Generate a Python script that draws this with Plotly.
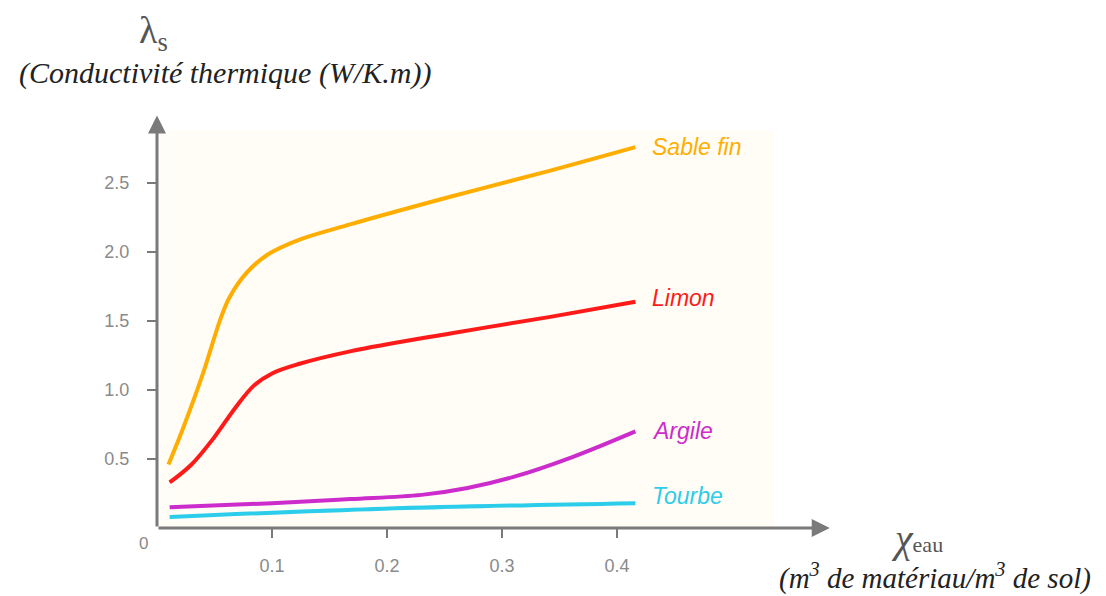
import plotly.graph_objects as go

# ---- data ----
sable_x = [0.010, 0.023, 0.040, 0.055, 0.063, 0.078, 0.096, 0.124, 0.168, 0.255, 0.342, 0.416]
sable_y = [0.46, 0.73, 1.12, 1.51, 1.67, 1.85, 1.98, 2.09, 2.20, 2.40, 2.59, 2.76]

limon_x = [0.011, 0.030, 0.050, 0.068, 0.084, 0.100, 0.124, 0.168, 0.255, 0.342, 0.416]
limon_y = [0.33, 0.46, 0.66, 0.87, 1.03, 1.12, 1.19, 1.28, 1.41, 1.53, 1.64]

argile_x = [0.011, 0.100, 0.168, 0.230, 0.270, 0.310, 0.360, 0.416]
argile_y = [0.15, 0.18, 0.21, 0.24, 0.29, 0.37, 0.51, 0.70]

tourbe_x = [0.011, 0.197, 0.416]
tourbe_y = [0.08, 0.14, 0.18]

series_names = ["Sable fin", "Limon", "Argile", "Tourbe"]
series_colors = ["#ffad00", "#ff1a1a", "#cc2ccc", "#2ccdea"]
label_yshift = [0, 4, 0, 7]

x_ticks = [0.1, 0.2, 0.3, 0.4]
x_tick_text = ["0.1", "0.2", "0.3", "0.4"]
y_ticks = [0.5, 1.0, 1.5, 2.0, 2.5]
y_tick_text = ["0.5", "1.0", "1.5", "2.0", "2.5"]

# plot area placement on the screenshot (page body adds 8px offset)
PL, PT, PW, PH = 157, 114, 690, 414


def px(X):
    return (X - PL) / PW


def py(Y):
    return (PT + PH - Y) / PH


fig = go.Figure()

# faint background panel
fig.add_shape(type="rect", xref="x", yref="y", x0=0.003, x1=0.536, y0=0, y1=2.88,
              fillcolor="#fffdf5", line_width=0, layer="below")

xs = [sable_x, limon_x, argile_x, tourbe_x]
ys = [sable_y, limon_y, argile_y, tourbe_y]
for name, col, x, y, ysh in zip(series_names, series_colors, xs, ys, label_yshift):
    fig.add_trace(go.Scatter(x=x, y=y, mode="lines", name=name,
                             line=dict(color=col, width=4, shape="spline", smoothing=1.0),
                             showlegend=False, hoverinfo="skip"))
    fig.add_annotation(x=x[-1], y=y[-1], xref="x", yref="y", text=name,
                       showarrow=False, xanchor="left", xshift=15, yshift=ysh,
                       font=dict(family="Liberation Sans, Arial", size=23, color=col, style="italic"))

axis_col = "#7a7a7a"
# axes with arrows
fig.add_annotation(x=0, y=2.99, ax=0, ay=0, xref="x", yref="y", axref="x", ayref="y",
                   showarrow=True, arrowhead=2, arrowsize=1.2, arrowwidth=3, arrowcolor=axis_col, text="")
fig.add_annotation(x=0.585, y=0, ax=0, ay=0, xref="x", yref="y", axref="x", ayref="y",
                   showarrow=True, arrowhead=2, arrowsize=1.2, arrowwidth=3, arrowcolor=axis_col, text="")

# origin label
fig.add_annotation(x=0, y=0, xref="x", yref="y", text="0", showarrow=False,
                   xshift=-14, yshift=-15,
                   font=dict(family="Liberation Sans, Arial", size=17, color="#8a8a8a"))

serif = "Liberation Serif, Times New Roman, serif"
# axis titles
fig.add_annotation(x=px(153), y=py(33), xref="paper", yref="paper", xanchor="center", yanchor="middle",
                   text="λ<sub>s</sub>", showarrow=False,
                   font=dict(family=serif, size=38, color="#555"))
fig.add_annotation(x=px(225), y=py(73), xref="paper", yref="paper", yanchor="middle",
                   xanchor="center", text="<i>(Conductivité thermique (W/K.m))</i>",
                   showarrow=False, font=dict(family=serif, size=30, color="#222"))
fig.add_annotation(x=px(917), y=py(538), xref="paper", yref="paper", xanchor="center", yanchor="middle",
                   showarrow=False,
                   text="<i>χ</i><span style='font-size:22px'>eau</span>",
                   font=dict(family=serif, size=40, color="#555"))
fig.add_annotation(x=px(935), y=py(576), xref="paper", yref="paper", yanchor="middle",
                   xanchor="center", text="<i>(m<sup>3</sup> de matériau/m<sup>3</sup> de sol)</i>",
                   showarrow=False, font=dict(family=serif, size=29, color="#222"))

fig.update_layout(
    width=1106, height=596,
    margin=dict(l=PL - 8, r=1106 - (PL - 8) - PW, t=PT - 8, b=596 - (PT - 8) - PH),
    paper_bgcolor="white", plot_bgcolor="white",
    xaxis=dict(range=[0, 0.6], showgrid=False, zeroline=False, showline=False,
               tickvals=x_ticks, ticktext=x_tick_text, ticks="outside", ticklen=9,
               tickwidth=2, tickcolor=axis_col,
               tickfont=dict(family="Liberation Sans, Arial", size=18, color="#8a8a8a")),
    yaxis=dict(range=[0, 3.0], showgrid=False, zeroline=False, showline=False,
               tickvals=y_ticks, ticktext=y_tick_text, ticks="outside", ticklen=9,
               tickwidth=2, tickcolor=axis_col,
               tickfont=dict(family="Liberation Sans, Arial", size=18, color="#8a8a8a")),
)
fig.update_xaxes(ticklabelstandoff=12)
fig.update_yaxes(ticklabelstandoff=14)

fig.write_html("out.html")
